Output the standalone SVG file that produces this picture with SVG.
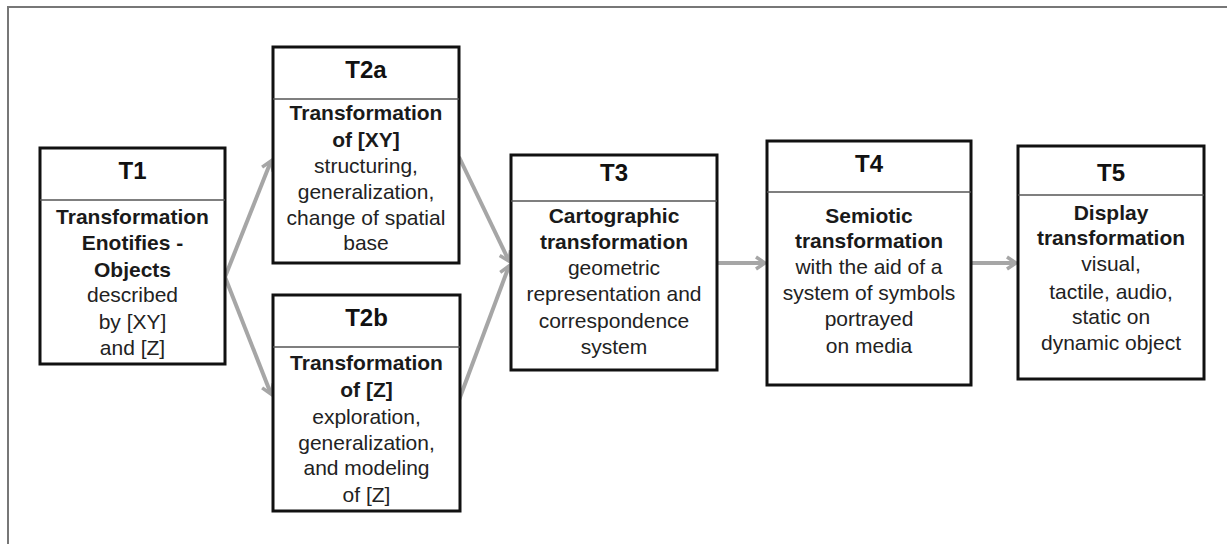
<svg xmlns="http://www.w3.org/2000/svg" width="1227" height="544" viewBox="0 0 1227 544">
<style>
.box{fill:#fff;stroke:#111;stroke-width:3}
.div{stroke:#555;stroke-width:1.3}
.title{font-family:"Liberation Sans",Arial,sans-serif;font-size:24px;font-weight:bold;fill:#111;text-anchor:middle}
.b{font-family:"Liberation Sans",Arial,sans-serif;font-size:21px;font-weight:bold;fill:#1a1a1a;text-anchor:middle}
.t{font-family:"Liberation Sans",Arial,sans-serif;font-size:21px;fill:#222;text-anchor:middle}
.conn{stroke:#a6a6a6;stroke-width:4;fill:none;marker-end:url(#arr)}
</style>
<defs>
<marker id="arr" markerUnits="userSpaceOnUse" markerWidth="20" markerHeight="20" refX="12" refY="10" orient="auto">
<path d="M3,4 L12,10 L3,16" fill="none" stroke="#a6a6a6" stroke-width="3.5"/>
</marker>
</defs>
<rect width="1227" height="544" fill="#fff"/>
<path d="M8,544 L8,7 L1227,7" fill="none" stroke="#777" stroke-width="2"/>
<g id="connectors">
<line class="conn" x1="225" y1="277" x2="271" y2="161"/>
<line class="conn" x1="225" y1="277" x2="271" y2="394"/>
<line class="conn" x1="459" y1="157" x2="509" y2="261"/>
<line class="conn" x1="459" y1="400" x2="509" y2="266"/>
<line class="conn" x1="717" y1="263" x2="765" y2="263"/>
<line class="conn" x1="971" y1="263" x2="1016" y2="263"/>
</g>
<g id="T1">
<rect class="box" x="40" y="148" width="185" height="216"/>
<line class="div" x1="40" y1="200" x2="225" y2="200"/>
<text class="title" x="132.5" y="179">T1</text>
<text class="b" x="132.5" y="224">Transformation</text>
<text class="b" x="132.5" y="250">Enotifies -</text>
<text class="b" x="132.5" y="277">Objects</text>
<text class="t" x="132.5" y="302">described</text>
<text class="t" x="132.5" y="329">by [XY]</text>
<text class="t" x="132.5" y="355">and [Z]</text>
</g>
<g id="T2a">
<rect class="box" x="273" y="47" width="186" height="216"/>
<line class="div" x1="273" y1="99" x2="459" y2="99"/>
<text class="title" x="366" y="78">T2a</text>
<text class="b" x="366" y="120">Transformation</text>
<text class="b" x="366" y="147">of [XY]</text>
<text class="t" x="366" y="173">structuring,</text>
<text class="t" x="366" y="199">generalization,</text>
<text class="t" x="366" y="225">change of spatial</text>
<text class="t" x="366" y="250">base</text>
</g>
<g id="T2b">
<rect class="box" x="273" y="295" width="187" height="216"/>
<line class="div" x1="273" y1="347" x2="460" y2="347"/>
<text class="title" x="366.5" y="326">T2b</text>
<text class="b" x="366.5" y="370">Transformation</text>
<text class="b" x="366.5" y="397">of [Z]</text>
<text class="t" x="366.5" y="424">exploration,</text>
<text class="t" x="366.5" y="450">generalization,</text>
<text class="t" x="366.5" y="475">and modeling</text>
<text class="t" x="366.5" y="502">of [Z]</text>
</g>
<g id="T3">
<rect class="box" x="511" y="155" width="206" height="215"/>
<line class="div" x1="511" y1="201" x2="717" y2="201"/>
<text class="title" x="614" y="181">T3</text>
<text class="b" x="614" y="223">Cartographic</text>
<text class="b" x="614" y="249">transformation</text>
<text class="t" x="614" y="275">geometric</text>
<text class="t" x="614" y="301">representation and</text>
<text class="t" x="614" y="328">correspondence</text>
<text class="t" x="614" y="354">system</text>
</g>
<g id="T4">
<rect class="box" x="767" y="141" width="204" height="244"/>
<line class="div" x1="767" y1="192" x2="971" y2="192"/>
<text class="title" x="869" y="172">T4</text>
<text class="b" x="869" y="223">Semiotic</text>
<text class="b" x="869" y="248">transformation</text>
<text class="t" x="869" y="274">with the aid of a</text>
<text class="t" x="869" y="300">system of symbols</text>
<text class="t" x="869" y="326">portrayed</text>
<text class="t" x="869" y="353">on media</text>
</g>
<g id="T5">
<rect class="box" x="1018" y="146" width="186" height="233"/>
<line class="div" x1="1018" y1="195" x2="1204" y2="195"/>
<text class="title" x="1111" y="181">T5</text>
<text class="b" x="1111" y="220">Display</text>
<text class="b" x="1111" y="245">transformation</text>
<text class="t" x="1111" y="271">visual,</text>
<text class="t" x="1111" y="299">tactile, audio,</text>
<text class="t" x="1111" y="324">static on</text>
<text class="t" x="1111" y="350">dynamic object</text>
</g>
</svg>
